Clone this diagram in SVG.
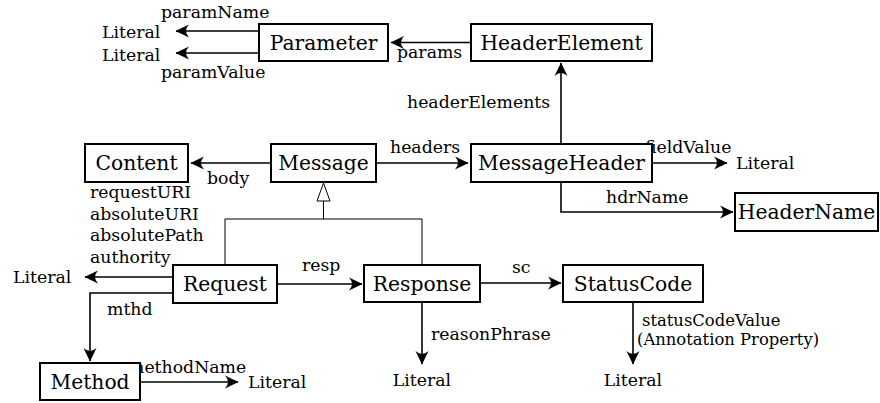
<svg xmlns="http://www.w3.org/2000/svg" width="880" height="403" viewBox="0 0 880 403">
<defs>
<style>
.box{fill:#fff;stroke:#000;stroke-width:2}
.bt{font-family:"DejaVu Serif","Liberation Serif",serif;font-size:20.3px;text-anchor:middle;fill:#000}
.lb{font-family:"DejaVu Serif","Liberation Serif",serif;font-size:17.3px;fill:#000}
.sm{font-size:16.4px}
.c{fill:none;stroke:#000;stroke-width:1.6}
.g{fill:none;stroke:#000;stroke-width:1}
</style>
<marker id="arr" viewBox="-15 -8 16 16" refX="0" refY="0" markerWidth="16" markerHeight="16" markerUnits="userSpaceOnUse" orient="auto">
<path d="M0.5,0 L-13,-6.5 Q-7,0 -13,6.5 Z" fill="#000"/>
</marker>
</defs>
<rect width="880" height="403" fill="#fff"/>
<g id="connectors">
<path class="c" d="M259,31 H176" marker-end="url(#arr)"/>
<path class="c" d="M259,53 H176" marker-end="url(#arr)"/>
<path class="c" d="M471,42.5 H391" marker-end="url(#arr)"/>
<path class="c" d="M561,144 V63" marker-end="url(#arr)"/>
<path class="c" d="M271,163 H191" marker-end="url(#arr)"/>
<path class="c" d="M376,163 H468" marker-end="url(#arr)"/>
<path class="c" d="M652,163 H727" marker-end="url(#arr)"/>
<path class="c" d="M561,182 V212 H733" marker-end="url(#arr)"/>
<path class="g" d="M323.5,201 V219 M225,265 V219 H422 V265"/>
<polygon class="g" points="323.5,183 317,201 330,201" fill="#fff"/>
<path class="c" d="M173,277 H85" marker-end="url(#arr)"/>
<path class="c" d="M173,293 H90 V361" marker-end="url(#arr)"/>
<path class="c" d="M277,284 H362" marker-end="url(#arr)"/>
<path class="c" d="M480,283 H561" marker-end="url(#arr)"/>
<path class="c" d="M422,302 V364" marker-end="url(#arr)"/>
<path class="c" d="M633,302 V364" marker-end="url(#arr)"/>
<path class="c" d="M140,382 H238" marker-end="url(#arr)"/>
</g>
<g id="labels">
<text class="lb" x="161" y="18">paramName</text>
<text class="lb" x="161" y="78">paramValue</text>
<text class="lb" x="397" y="58">params</text>
<text class="lb" x="407" y="108">headerElements</text>
<text class="lb" x="207" y="184">body</text>
<text class="lb" x="390" y="153">headers</text>
<text class="lb" x="645" y="153">fieldValue</text>
<text class="lb" x="606" y="203">hdrName</text>
<text class="lb" x="90" y="198">requestURI</text>
<text class="lb" x="90" y="219.5">absoluteURI</text>
<text class="lb" x="90" y="241">absolutePath</text>
<text class="lb" x="90" y="262.5">authority</text>
<text class="lb" x="302" y="271">resp</text>
<text class="lb" x="512" y="273">sc</text>
<text class="lb" x="107" y="315">mthd</text>
<text class="lb" x="431" y="340">reasonPhrase</text>
<text class="lb sm" x="642" y="326">statusCodeValue</text>
<text class="lb sm" x="637" y="345">(Annotation Property)</text>
<text class="lb" x="128" y="373">methodName</text>
</g>
<g id="literals">
<text class="lb" x="102" y="38">Literal</text>
<text class="lb" x="102" y="61">Literal</text>
<text class="lb" x="736" y="169">Literal</text>
<text class="lb" x="13" y="283">Literal</text>
<text class="lb" x="422" y="386" text-anchor="middle">Literal</text>
<text class="lb" x="633" y="386" text-anchor="middle">Literal</text>
<text class="lb" x="248" y="388">Literal</text>
</g>
<g id="Parameter"><rect class="box" x="259" y="24" width="129" height="37"/><text class="bt" x="323.5" y="50">Parameter</text></g>
<g id="HeaderElement"><rect class="box" x="471" y="24" width="181" height="37"/><text class="bt" x="561.5" y="50">HeaderElement</text></g>
<g id="Content"><rect class="box" x="85" y="144" width="103" height="38"/><text class="bt" x="136.5" y="170">Content</text></g>
<g id="Message"><rect class="box" x="271" y="144" width="105" height="38"/><text class="bt" x="323.5" y="170">Message</text></g>
<g id="MessageHeader"><rect class="box" x="471" y="144" width="181" height="38"/><text class="bt" x="561.5" y="170">MessageHeader</text></g>
<g id="HeaderName"><rect class="box" x="735" y="193" width="143" height="38"/><text class="bt" x="806.5" y="219">HeaderName</text></g>
<g id="Request"><rect class="box" x="173" y="265" width="104" height="38"/><text class="bt" x="225" y="291">Request</text></g>
<g id="Response"><rect class="box" x="364" y="265" width="116" height="37"/><text class="bt" x="422" y="291">Response</text></g>
<g id="StatusCode"><rect class="box" x="563" y="265" width="140" height="37"/><text class="bt" x="633" y="291">StatusCode</text></g>
<g id="Method"><rect class="box" x="40" y="363" width="100" height="37"/><text class="bt" x="90" y="389">Method</text></g>
</svg>
